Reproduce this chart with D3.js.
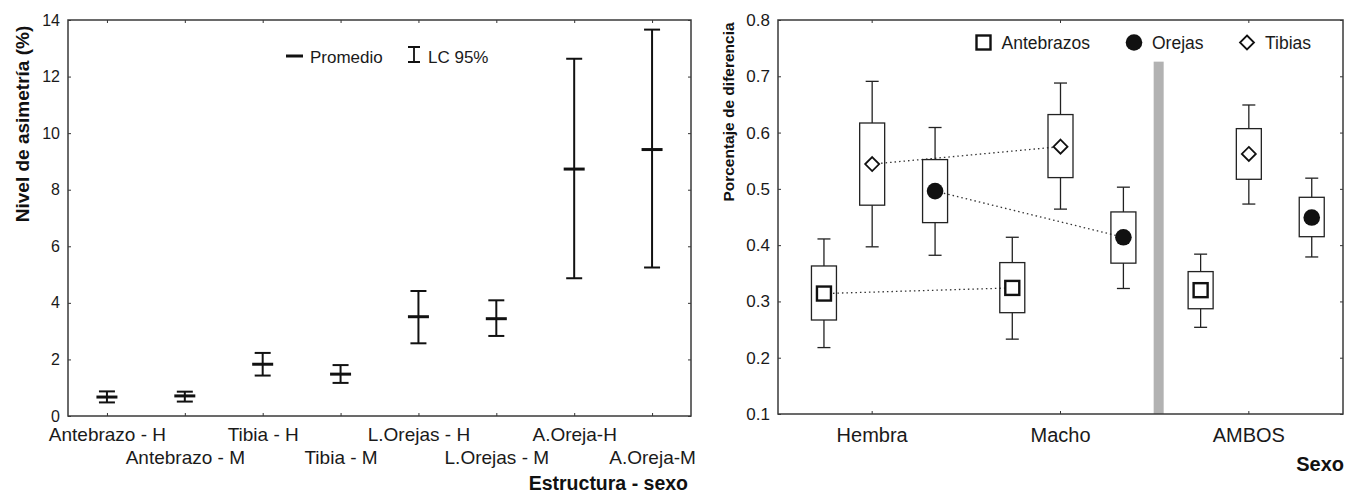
<!DOCTYPE html>
<html lang="es">
<head>
<meta charset="UTF-8">
<title>Asimetría y porcentaje de diferencia</title>
<script src="https://d3js.org/d3.v7.min.js"></script>
<style>
  html, body { margin: 0; padding: 0; background: #fff; }
  svg { display: block; font-family: "Liberation Sans", Arial, sans-serif; }
  .frame { fill: none; stroke: #3a3a3a; stroke-width: 1.5; }
  .tick-lbl { fill: #1a1a1a; }
  .title { font-weight: bold; fill: #111; }
</style>
</head>
<body>
<svg id="canvas" width="1345" height="496"></svg>
<script>
// ---- left chart data: nivel de asimetría (%)
const categories = ['Antebrazo - H', 'Antebrazo - M', 'Tibia - H', 'Tibia - M',
                    'L.Orejas - H', 'L.Orejas - M', 'A.Oreja-H', 'A.Oreja-M'];
const means = [0.67, 0.71, 1.83, 1.48, 3.51, 3.44, 8.73, 9.42];
const lower = [0.48, 0.51, 1.43, 1.17, 2.57, 2.83, 4.87, 5.25];
const upper = [0.87, 0.86, 2.23, 1.80, 4.42, 4.09, 12.63, 13.66];
const leftTicks = [0, 2, 4, 6, 8, 10, 12, 14];

// ---- right chart data: porcentaje de diferencia
// each row: [whisker low, box low, mean, box high, whisker high]
const sexes = ['Hembra', 'Macho', 'AMBOS'];
const structures = ['Antebrazos', 'Orejas', 'Tibias'];
const antebrazosStats = [[0.218, 0.267, 0.314, 0.363, 0.411],
                         [0.233, 0.280, 0.324, 0.369, 0.414],
                         [0.254, 0.287, 0.320, 0.353, 0.384]];
const orejasStats = [[0.382, 0.440, 0.496, 0.552, 0.609],
                     [0.323, 0.368, 0.414, 0.459, 0.503],
                     [0.379, 0.415, 0.449, 0.485, 0.519]];
const tibiasStats = [[0.397, 0.471, 0.544, 0.617, 0.691],
                     [0.464, 0.520, 0.575, 0.632, 0.688],
                     [0.473, 0.517, 0.562, 0.607, 0.649]];
const rightTicks = [0.1, 0.2, 0.3, 0.4, 0.5, 0.6, 0.7, 0.8];

const svg = d3.select('#canvas');
const TK = 3;

// ===================== LEFT CHART =====================
const L = { left: 68, right: 691, top: 20, bottom: 416 };
const xL = d3.scalePoint().domain(categories).range([L.left, L.right]).padding(0.5);
const yL = d3.scaleLinear().domain([0, 14]).range([L.bottom, L.top]);

const gL = svg.append('g');

gL.append('g')
  .attr('transform', `translate(${L.left},0)`)
  .call(d3.axisLeft(yL).tickValues(leftTicks).tickSize(-TK).tickPadding(8).tickFormat(d3.format('d')))
  .call(g => g.select('.domain').remove())
  .call(g => g.selectAll('line').attr('stroke', '#333'))
  .call(g => g.selectAll('text').attr('class', 'tick-lbl').style('font-size', '16px').attr('font-family', null));

gL.append('g')
  .attr('transform', `translate(${L.right},0)`)
  .call(d3.axisRight(yL).tickValues(leftTicks).tickSize(-TK).tickFormat(''))
  .call(g => g.select('.domain').remove())
  .call(g => g.selectAll('line').attr('stroke', '#333'));

gL.append('g')
  .attr('transform', `translate(0,${L.top})`)
  .call(d3.axisTop(xL).tickSize(-TK).tickFormat(''))
  .call(g => g.select('.domain').remove())
  .call(g => g.selectAll('line').attr('stroke', '#333'));

const bottomL = gL.append('g')
  .attr('transform', `translate(0,${L.bottom})`)
  .call(d3.axisBottom(xL).tickSize(-TK).tickPadding(0))
  .call(g => g.select('.domain').remove())
  .call(g => g.selectAll('line').attr('stroke', '#333'));
bottomL.selectAll('text')
  .attr('class', 'tick-lbl')
  .attr('font-family', null)
  .style('font-size', '19px')
  .attr('dy', null)
  .attr('y', (d, i) => i % 2 === 0 ? 25 : 48);

gL.append('rect').attr('class', 'frame')
  .attr('x', L.left).attr('y', L.top)
  .attr('width', L.right - L.left).attr('height', L.bottom - L.top);

// error bars
const eb = gL.selectAll('.eb').data(categories).enter().append('g').attr('class', 'eb');
eb.append('line')
  .attr('x1', d => xL(d)).attr('x2', d => xL(d))
  .attr('y1', (d, i) => yL(lower[i])).attr('y2', (d, i) => yL(upper[i]))
  .attr('stroke', '#111').attr('stroke-width', 2);
eb.append('line')
  .attr('x1', d => xL(d) - 8).attr('x2', d => xL(d) + 8)
  .attr('y1', (d, i) => yL(lower[i])).attr('y2', (d, i) => yL(lower[i]))
  .attr('stroke', '#111').attr('stroke-width', 2);
eb.append('line')
  .attr('x1', d => xL(d) - 8).attr('x2', d => xL(d) + 8)
  .attr('y1', (d, i) => yL(upper[i])).attr('y2', (d, i) => yL(upper[i]))
  .attr('stroke', '#111').attr('stroke-width', 2);
eb.append('line')
  .attr('x1', d => xL(d) - 10.5).attr('x2', d => xL(d) + 10.5)
  .attr('y1', (d, i) => yL(means[i])).attr('y2', (d, i) => yL(means[i]))
  .attr('stroke', '#111').attr('stroke-width', 3);

// legend
gL.append('line').attr('x1', 286).attr('x2', 303).attr('y1', 56).attr('y2', 56)
  .attr('stroke', '#111').attr('stroke-width', 3);
gL.append('text').attr('x', 310).attr('y', 63).text('Promedio')
  .attr('class', 'tick-lbl').style('font-size', '17px');
gL.append('path').attr('d', 'M408,47H420M414,47V62M408,62H420')
  .attr('stroke', '#111').attr('stroke-width', 1.8).attr('fill', 'none');
gL.append('text').attr('x', 428).attr('y', 63).text('LC 95%')
  .attr('class', 'tick-lbl').style('font-size', '17px');

// axis titles
gL.append('text').attr('class', 'title')
  .attr('transform', 'translate(29,124) rotate(-90)')
  .attr('text-anchor', 'middle').style('font-size', '19px')
  .text('Nivel de asimetría (%)');
gL.append('text').attr('class', 'title')
  .attr('x', 688).attr('y', 490).attr('text-anchor', 'end').style('font-size', '19.5px')
  .text('Estructura - sexo');

// ===================== RIGHT CHART =====================
const R = { left: 778, right: 1343, top: 20, bottom: 414 };
const xR = d3.scaleBand().domain(sexes).range([R.left, R.right]);
const yR = d3.scaleLinear().domain([0.1, 0.8]).range([R.bottom, R.top]);
const offset = d3.scaleOrdinal().domain(['Antebrazos', 'Tibias', 'Orejas']).range([-0.256, 0, 0.334]);
const cx = (sex, s) => xR(sex) + xR.bandwidth() / 2 + offset(s) * xR.bandwidth();

const gR = svg.append('g');

gR.append('g')
  .attr('transform', `translate(${R.left},0)`)
  .call(d3.axisLeft(yR).tickValues(rightTicks).tickSize(-TK).tickPadding(8).tickFormat(d3.format('.1f')))
  .call(g => g.select('.domain').remove())
  .call(g => g.selectAll('line').attr('stroke', '#333'))
  .call(g => g.selectAll('text').attr('class', 'tick-lbl').style('font-size', '17px').attr('font-family', null));

gR.append('g')
  .attr('transform', `translate(${R.right},0)`)
  .call(d3.axisRight(yR).tickValues(rightTicks).tickSize(-TK).tickFormat(''))
  .call(g => g.select('.domain').remove())
  .call(g => g.selectAll('line').attr('stroke', '#333'));

gR.append('g')
  .attr('transform', `translate(0,${R.top})`)
  .call(d3.axisTop(xR).tickSize(-TK).tickFormat(''))
  .call(g => g.select('.domain').remove())
  .call(g => g.selectAll('line').attr('stroke', '#333'));

gR.append('g')
  .attr('transform', `translate(0,${R.bottom})`)
  .call(d3.axisBottom(xR).tickSize(-TK).tickPadding(0))
  .call(g => g.select('.domain').remove())
  .call(g => g.selectAll('line').attr('stroke', '#333'))
  .call(g => g.selectAll('text').attr('class', 'tick-lbl').attr('font-family', null)
    .style('font-size', '20px').attr('dy', null).attr('y', 28));

// gray separator between Macho and AMBOS
gR.append('rect')
  .attr('x', xR('AMBOS') - 1).attr('width', 10)
  .attr('y', yR(0.726)).attr('height', R.bottom - yR(0.726))
  .attr('fill', '#b2b2b2');

gR.append('rect').attr('class', 'frame')
  .attr('x', R.left).attr('y', R.top)
  .attr('width', R.right - R.left).attr('height', R.bottom - R.top);

const statsBy = { Antebrazos: antebrazosStats, Orejas: orejasStats, Tibias: tibiasStats };
const boxes = [];
structures.forEach(s => sexes.forEach((sex, i) => boxes.push({ s, sex, v: statsBy[s][i] })));

// dotted lines Hembra -> Macho
gR.selectAll('.trend').data(structures).enter().append('line')
  .attr('x1', s => cx('Hembra', s)).attr('y1', s => yR(statsBy[s][0][2]))
  .attr('x2', s => cx('Macho', s)).attr('y2', s => yR(statsBy[s][1][2]))
  .attr('stroke', '#333').attr('stroke-width', 1.3).attr('stroke-dasharray', '1.5,3');

const bw = 25;
const bx = gR.selectAll('.bx').data(boxes).enter().append('g');
bx.append('line')
  .attr('x1', d => cx(d.sex, d.s)).attr('x2', d => cx(d.sex, d.s))
  .attr('y1', d => yR(d.v[0])).attr('y2', d => yR(d.v[1]))
  .attr('stroke', '#222').attr('stroke-width', 1.3);
bx.append('line')
  .attr('x1', d => cx(d.sex, d.s)).attr('x2', d => cx(d.sex, d.s))
  .attr('y1', d => yR(d.v[3])).attr('y2', d => yR(d.v[4]))
  .attr('stroke', '#222').attr('stroke-width', 1.3);
bx.append('line')
  .attr('x1', d => cx(d.sex, d.s) - 6.5).attr('x2', d => cx(d.sex, d.s) + 6.5)
  .attr('y1', d => yR(d.v[0])).attr('y2', d => yR(d.v[0]))
  .attr('stroke', '#222').attr('stroke-width', 1.3);
bx.append('line')
  .attr('x1', d => cx(d.sex, d.s) - 6.5).attr('x2', d => cx(d.sex, d.s) + 6.5)
  .attr('y1', d => yR(d.v[4])).attr('y2', d => yR(d.v[4]))
  .attr('stroke', '#222').attr('stroke-width', 1.3);
bx.append('rect')
  .attr('x', d => cx(d.sex, d.s) - bw / 2).attr('width', bw)
  .attr('y', d => yR(d.v[3])).attr('height', d => yR(d.v[1]) - yR(d.v[3]))
  .attr('fill', 'none').attr('stroke', '#222').attr('stroke-width', 1.3);

// markers
const marker = (g, s, x, y) => {
  if (s === 'Antebrazos') {
    g.append('rect').attr('x', x - 7).attr('y', y - 7).attr('width', 14).attr('height', 14)
      .attr('fill', '#fff').attr('stroke', '#111').attr('stroke-width', 2.4);
  } else if (s === 'Orejas') {
    g.append('circle').attr('cx', x).attr('cy', y).attr('r', 8.3).attr('fill', '#111');
  } else {
    g.append('path').attr('d', `M${x},${y - 7}L${x + 7},${y}L${x},${y + 7}L${x - 7},${y}Z`)
      .attr('fill', '#fff').attr('stroke', '#111').attr('stroke-width', 1.8);
  }
};
bx.each(function (d) { marker(d3.select(this), d.s, cx(d.sex, d.s), yR(d.v[2])); });

// legend
const legX = { Antebrazos: 983.5, Orejas: 1134, Tibias: 1247 };
structures.forEach(s => {
  const lg = gR.append('g');
  marker(lg, s, legX[s], 42.5);
  lg.append('text').attr('x', legX[s] + 18).attr('y', 48.5).text(s)
    .attr('class', 'tick-lbl').style('font-size', '17.5px');
});

// axis titles
gR.append('text').attr('class', 'title')
  .attr('transform', 'translate(734,112) rotate(-90)')
  .attr('text-anchor', 'middle').style('font-size', '15.5px')
  .text('Porcentaje de diferencia');
gR.append('text').attr('class', 'title')
  .attr('x', 1344).attr('y', 471).attr('text-anchor', 'end').style('font-size', '20px')
  .text('Sexo');
</script>
</body>
</html>
